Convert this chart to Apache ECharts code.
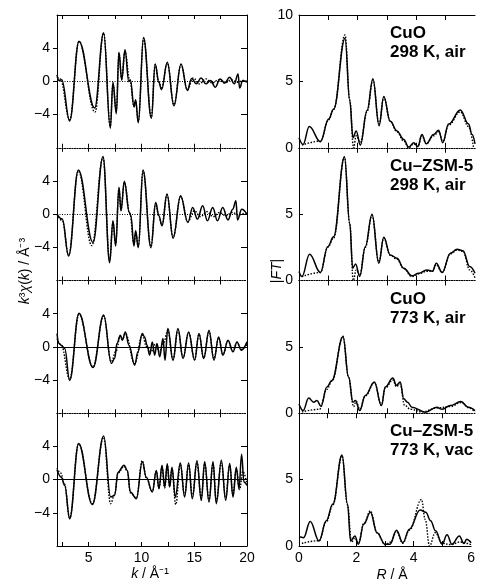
<!DOCTYPE html>
<html>
<head>
    <meta charset="utf-8">
    <title>EXAFS k3chi(k) and |FT|</title>
    <script src="https://cdn.jsdelivr.net/npm/echarts@6.0.0/dist/echarts.min.js"></script>
    <style>
        html, body { margin: 0; padding: 0; background: #fff; }
        #chart { width: 478px; height: 580px; }
    </style>
</head>
<body>
<div id="chart"></div>
<script type="text/javascript">
    // k-space, CuO 298 K air (solid = data, dotted = fit)
    var k1  = [2.0, 2.2, 2.45, 3.2, 4.08, 5.57, 6.42, 7.05, 7.3, 7.62, 7.87, 8.13, 8.44, 8.8, 8.95, 9.3, 9.45, 9.7, 10.2, 10.94, 11.3, 11.65, 11.9, 12.45, 13.08, 13.75, 14.35, 14.75, 15.2, 15.65, 16.1, 16.55, 17.0, 17.45, 17.9, 18.35, 18.8, 19.15, 19.3, 19.6, 20.0];
    var c1  = [0.8, 0.1, 0.2, -4.77, 4.85, -3.2, 5.86, -5.66, -0.1, -3.9, 3.5, 0.15, 3.8, 0.0, 0.2, -3.1, -2.2, -5.0, 5.3, -4.45, 2.1, -0.1, -1.0, 2.3, -2.95, 2.1, -1.1, 0.35, -0.3, 0.4, -0.3, 0.1, -0.7, 0.3, -0.2, 0.5, -0.3, 0.9, -0.8, 0.1, -0.1];
    var kf1 = [2.0, 2.3, 3.2, 4.08, 5.6, 6.42, 7.05, 7.3, 7.62, 7.87, 8.13, 8.44, 8.9, 9.3, 9.45, 9.7, 10.2, 10.94, 11.3, 11.65, 11.9, 12.45, 13.08, 13.75, 14.35, 14.9, 15.5, 16.1, 16.7, 17.3, 17.9, 18.5, 19.1, 19.7, 20.0];
    var cf1 = [0.5, 0.3, -4.6, 4.8, -3.7, 5.8, -5.4, -0.3, -3.6, 3.4, 0.3, 3.6, 0.1, -3.0, -2.4, -4.8, 5.2, -4.3, 2.0, 0.0, -0.9, 2.2, -2.8, 2.0, -1.0, 0.4, -0.3, 0.3, -0.2, 0.2, -0.2, 0.2, -0.1, 0.1, 0.0];

    // k-space, Cu-ZSM-5 298 K air
    var k2  = [2.0, 2.5, 3.1, 4.02, 5.41, 6.36, 6.99, 7.3, 7.56, 7.87, 8.06, 8.38, 8.85, 9.0, 9.29, 9.45, 9.7, 10.15, 10.9, 11.35, 11.65, 11.95, 12.42, 13.0, 13.71, 14.4, 14.85, 15.3, 15.8, 16.25, 16.75, 17.2, 17.7, 18.2, 18.65, 18.95, 19.1, 19.5, 20.0];
    var c2  = [0.0, -0.6, -5.05, 5.33, -3.43, 6.95, -5.86, -0.8, -3.84, 3.23, 0.4, 3.96, 0.2, -0.2, -3.84, -2.0, -4.04, 5.33, -4.04, 1.4, -0.2, -1.4, 2.42, -2.9, 2.22, -1.0, 0.8, -0.6, 1.0, -0.8, 0.8, -0.8, 0.8, -0.7, 0.6, 1.6, -0.7, 0.6, 0.0];
    var kf2 = [2.0, 2.5, 3.1, 4.02, 5.3, 6.36, 6.99, 7.3, 7.56, 7.87, 8.06, 8.38, 8.9, 9.29, 9.45, 9.7, 10.15, 10.9, 11.35, 11.65, 11.95, 12.42, 13.0, 13.71, 14.4, 15.0, 15.6, 16.2, 16.8, 17.4, 18.0, 18.6, 19.2, 19.8, 20.0];
    var cf2 = [0.0, -0.8, -4.9, 5.2, -3.8, 6.8, -5.6, -1.0, -3.6, 3.1, 0.5, 3.8, 0.1, -3.6, -2.2, -3.9, 5.2, -3.9, 1.3, -0.3, -1.3, 2.3, -2.8, 2.1, -0.9, 0.4, -0.3, 0.3, -0.3, 0.2, -0.2, 0.2, -0.1, 0.1, 0.0];

    // k-space, CuO 773 K air
    var k3  = [2.0, 2.19, 2.41, 2.73, 3.2, 4.08, 5.41, 6.42, 7.15, 7.46, 7.68, 8.0, 8.19, 8.47, 8.82, 9.36, 9.67, 10.08, 10.3, 10.53, 10.78, 11.03, 11.25, 11.47, 11.73, 12.04, 12.23, 12.5, 12.99, 13.46, 13.94, 14.47, 15.04, 15.45, 15.9, 16.4, 16.87, 17.31, 17.72, 18.2, 18.67, 19.05, 19.46, 20.0];
    var c3  = [1.6, 0.4, 0.2, -0.2, -4.04, 4.04, -2.5, 3.84, -2.0, -1.4, 0.4, 1.4, 0.8, 1.8, 0.2, -2.2, -0.6, 1.6, 1.2, 0.2, -1.0, 0.6, -1.0, 0.4, -1.2, 1.0, -1.6, 2.2, -1.6, 2.2, -1.4, 1.8, -1.6, 1.6, -1.4, 2.0, -1.6, 1.2, -1.0, 0.8, -0.6, 0.6, -0.4, 0.6];
    var kf3 = [2.0, 2.4, 3.2, 4.08, 5.41, 6.42, 7.15, 7.6, 8.0, 8.2, 8.47, 9.36, 10.08, 10.5, 10.9, 11.3, 11.7, 12.1, 12.5, 12.99, 13.46, 13.94, 14.47, 15.04, 15.45, 15.9, 16.4, 16.87, 17.31, 17.72, 18.2, 18.67, 19.05, 19.46, 20.0];
    var cf3 = [1.0, 0.2, -3.9, 3.9, -2.4, 3.7, -1.8, -0.5, 1.3, 0.9, 1.6, -2.0, 1.4, 0.0, -0.6, 0.3, -0.6, 0.5, 2.0, -1.5, 2.0, -1.3, 1.7, -1.5, 1.5, -1.3, 1.8, -1.4, 1.1, -0.9, 0.7, -0.5, 0.5, -0.3, 0.3];

    // k-space, Cu-ZSM-5 773 K vac
    var k4  = [2.0, 2.41, 2.73, 3.2, 4.05, 5.35, 6.42, 7.08, 7.46, 7.78, 8.35, 8.66, 8.95, 9.52, 10.08, 10.46, 11.03, 11.41, 11.66, 11.95, 12.2, 12.45, 12.67, 12.89, 13.21, 13.68, 14.09, 14.47, 14.82, 15.26, 15.67, 15.99, 16.4, 16.78, 17.09, 17.57, 17.98, 18.36, 18.67, 18.99, 19.24, 19.49, 19.71, 20.0];
    var c4  = [1.2, 0.3, -0.7, -4.73, 4.36, -3.0, 5.25, -2.1, -1.9, 0.9, 1.74, 1.1, -1.5, -2.3, 2.14, 0.3, -1.5, 1.1, -1.1, 1.74, -0.9, 1.9, -0.9, 1.5, -2.1, 2.0, -2.1, 2.0, -2.3, 2.26, -2.5, 2.14, -2.7, 2.14, -2.9, 2.34, -2.5, 1.94, -2.1, 1.5, -1.1, 3.07, -0.3, -0.7];
    var kf4 = [2.0, 2.35, 2.7, 3.2, 4.05, 5.35, 6.42, 7.08, 7.46, 7.78, 8.35, 8.66, 8.95, 9.52, 10.08, 10.46, 11.03, 11.41, 11.66, 11.95, 12.2, 12.45, 12.67, 12.89, 13.25, 13.68, 14.09, 14.47, 14.82, 15.26, 15.67, 15.99, 16.4, 16.78, 17.09, 17.57, 17.98, 18.36, 18.67, 18.99, 19.3, 19.6, 20.0];
    var cf4 = [1.4, 0.8, -0.5, -4.6, 4.3, -2.9, 5.1, -2.9, -1.8, 0.8, 1.6, 1.0, -1.6, -2.2, 2.3, 0.2, -1.4, 1.0, -1.0, 1.5, -1.0, 1.7, -0.8, 1.3, -3.0, 1.8, -1.9, 1.8, -2.0, 2.0, -2.2, 1.9, -2.4, 1.9, -2.6, 2.0, -2.2, 1.7, -1.8, 1.3, -1.2, 1.0, -0.5];

    // R-space |FT|, CuO 298 K air
    var r1  = [0.0, 0.14, 0.35, 0.73, 1.01, 1.18, 1.57, 1.73, 1.84, 1.95, 2.09, 2.32, 2.52, 2.73, 2.89, 3.11, 3.34, 3.57, 3.74, 3.91, 4.05, 4.19, 4.34, 4.59, 4.76, 4.9, 5.1, 5.5, 5.78, 5.9, 6.0];
    var f1  = [0.76, 0.25, 1.6, 0.46, 2.16, 2.9, 8.25, 3.55, 0.76, 1.27, 0.2, 2.8, 5.2, 1.65, 3.86, 2.0, 1.27, 0.63, 0.05, 0.38, 0.08, 1.0, 0.3, 1.0, 1.32, 0.38, 1.78, 2.84, 1.78, 1.0, 0.3];
    var rf1 = [0.1, 0.73, 1.01, 1.18, 1.57, 1.73, 1.86, 1.95, 2.09, 2.32, 2.52, 2.73, 2.89, 3.11, 3.34, 3.57, 3.74, 3.91, 4.05, 4.19, 4.34, 4.59, 4.76, 4.9, 5.1, 5.5, 5.78, 5.95];
    var ff1 = [0.2, 0.5, 2.1, 2.9, 8.5, 3.6, 0.0, 0.9, 0.4, 2.7, 5.1, 1.8, 3.8, 2.0, 1.2, 0.5, 0.0, 0.3, 0.1, 0.9, 0.3, 0.9, 1.2, 0.5, 1.7, 2.7, 1.6, 0.0];

    // R-space |FT|, Cu-ZSM-5 298 K air
    var r2  = [0.0, 0.1, 0.36, 0.73, 0.98, 1.18, 1.55, 1.73, 1.83, 1.93, 2.07, 2.26, 2.49, 2.72, 2.89, 3.11, 3.34, 3.57, 3.85, 4.08, 4.36, 4.55, 4.68, 4.88, 5.16, 5.39, 5.59, 5.82, 6.0];
    var f2  = [0.68, 0.3, 1.98, 0.6, 2.55, 3.3, 9.3, 4.3, 0.93, 1.25, 0.3, 2.55, 5.0, 1.3, 3.25, 1.93, 1.68, 0.93, 0.35, 0.55, 0.8, 0.7, 1.3, 0.6, 2.05, 2.35, 2.25, 1.05, 0.55];
    var rf2 = [0.1, 0.73, 0.98, 1.18, 1.55, 1.73, 1.85, 1.95, 2.07, 2.26, 2.49, 2.72, 2.89, 3.11, 3.34, 3.57, 3.85, 4.08, 4.36, 4.55, 4.68, 4.88, 5.16, 5.39, 5.59, 5.82, 6.0];
    var ff2 = [0.3, 0.6, 2.5, 3.2, 9.3, 4.3, 0.0, 0.8, 0.4, 2.5, 4.9, 1.4, 3.2, 1.9, 1.6, 0.9, 0.3, 0.5, 0.7, 0.7, 1.2, 0.6, 2.0, 2.3, 2.2, 0.8, 0.2];

    // R-space |FT|, CuO 773 K air
    var r3  = [0.0, 0.14, 0.33, 0.5, 0.61, 0.75, 0.95, 1.12, 1.5, 1.69, 1.84, 1.92, 2.07, 2.26, 2.57, 2.81, 2.94, 3.2, 3.32, 3.45, 3.57, 3.7, 3.85, 4.31, 4.7, 4.88, 5.16, 5.52, 5.78, 6.0];
    var f3  = [0.7, 0.2, 1.14, 0.83, 0.96, 0.53, 1.97, 2.47, 5.76, 2.73, 0.83, 0.96, 0.2, 1.34, 2.35, 0.58, 1.97, 2.65, 2.1, 2.35, 1.09, 0.83, 0.45, 0.08, 0.45, 0.3, 0.58, 0.88, 0.45, 0.2];
    var rf3 = [0.1, 0.7, 0.95, 1.12, 1.5, 1.69, 1.86, 1.95, 2.07, 2.26, 2.57, 2.81, 2.94, 3.2, 3.32, 3.45, 3.6, 3.8, 4.2, 4.7, 5.16, 5.52, 5.8, 6.0];
    var ff3 = [0.1, 0.3, 1.8, 2.4, 5.8, 2.7, 0.5, 0.9, 0.3, 1.3, 2.3, 0.6, 1.9, 2.5, 2.0, 2.2, 0.6, 0.3, 0.1, 0.4, 0.5, 0.8, 0.4, 0.1];

    // R-space |FT|, Cu-ZSM-5 773 K vac
    var r4  = [0.0, 0.16, 0.39, 0.7, 0.95, 1.18, 1.5, 1.69, 1.8, 1.95, 2.07, 2.26, 2.49, 2.72, 3.0, 3.17, 3.4, 3.62, 3.85, 4.22, 4.42, 4.59, 4.76, 4.99, 5.16, 5.33, 5.59, 5.75, 5.84, 6.0];
    var f4  = [0.69, 0.63, 1.85, 0.38, 1.9, 3.17, 6.85, 3.17, 0.38, 0.76, 0.13, 1.65, 2.54, 1.0, 0.13, 0.13, 1.19, 0.25, 1.27, 2.72, 2.54, 1.9, 1.14, 0.13, 0.84, 0.13, 0.76, 0.18, 0.5, 0.25];
    var rf4 = [0.1, 0.7, 0.95, 1.18, 1.5, 1.69, 1.83, 1.95, 2.07, 2.26, 2.49, 2.72, 3.0, 3.2, 3.4, 3.62, 3.85, 4.27, 4.4, 4.55, 4.75, 4.99, 5.3, 5.6, 6.0];
    var ff4 = [0.2, 0.4, 1.8, 3.1, 6.8, 3.1, 0.3, 0.6, 0.2, 1.7, 2.65, 1.0, 0.1, 0.3, 1.1, 0.2, 1.2, 3.5, 2.0, 0.0, 1.0, 0.2, 0.1, 0.3, 0.1];

    // tick labels
    var kTicks = [2.5, 5, 7.5, 10, 12.5, 15, 17.5];
    var kLabels = [5, 10, 15, 20];
    var chiTicks = [-4, 0, 4];
    var rTicks = [1, 2, 3, 4, 5];
    var rLabels = [0, 2, 4, 6];
    var ftTicks = [5];
    var sampleNames = ['CuO', 'Cu\u2013ZSM-5', 'CuO', 'Cu\u2013ZSM-5'];
    var sampleConds = ['298 K, air', '298 K, air', '773 K, air', '773 K, vac'];

    var kData = [[k1, c1, kf1, cf1], [k2, c2, kf2, cf2], [k3, c3, kf3, cf3], [k4, c4, kf4, cf4]];
    var rData = [[r1, f1, rf1, ff1], [r2, f2, rf2, ff2], [r3, f3, rf3, ff3], [r4, f4, rf4, ff4]];

    var FONT = '"Liberation Sans", Arial, Helvetica, sans-serif';
    var TOPS = [15, 147.75, 280.5, 413.25];
    var H = 132.75;
    var DOT = [1, 1.5];

    function pairs(xs, ys) {
        return xs.map(function (v, i) { return [v, ys[i]]; });
    }
    function minus(v) {
        return v < 0 ? '\u2212' + (-v) : String(v);
    }
    function lineCfg(type) {
        return {show: true, onZero: false, lineStyle: {color: '#000', width: 1, type: type}};
    }
    var labelStyle = {color: '#000', fontSize: 14, fontFamily: FONT};

    var grids = [], xAxes = [], yAxes = [], series = [], graphics = [];

    function curve(xi, yi, data, dotted, zero) {
        var s = {
            type: 'line', xAxisIndex: xi, yAxisIndex: yi, data: data,
            symbol: 'none', smooth: 0.4, smoothMonotone: 'x', silent: true,
            lineStyle: {color: '#000', width: dotted ? 1.4 : 1.5, type: dotted ? [1.5, 1.5] : 'solid'}
        };
        if (zero) {
            s.markLine = {
                silent: true, symbol: 'none', label: {show: false},
                lineStyle: {color: '#000', width: 1, type: zero},
                data: [{yAxis: 0}]
            };
        }
        return s;
    }

    // left column: k^3 chi(k)
    for (var i = 0; i < 4; i++) {
        grids.push({left: 57, top: TOPS[i], width: 190, height: H});
        var g = grids.length - 1;
        xAxes.push({
            type: 'value', gridIndex: g, position: 'bottom', min: 2, max: 20,
            axisLine: lineCfg(i < 3 ? DOT : 'solid'),
            axisTick: {show: true, inside: true, length: 4, customValues: kTicks, lineStyle: {color: '#000'}},
            axisLabel: Object.assign({show: i === 3, customValues: kLabels, margin: 5}, labelStyle),
            splitLine: {show: false}
        });
        xAxes.push({
            type: 'value', gridIndex: g, position: 'top', min: 2, max: 20,
            axisLine: lineCfg(i === 0 ? 'solid' : DOT),
            axisTick: {show: true, inside: true, length: 4, customValues: kTicks, lineStyle: {color: '#000'}},
            axisLabel: {show: false}, splitLine: {show: false}
        });
        yAxes.push({
            type: 'value', gridIndex: g, position: 'left', min: -8, max: 8,
            axisLine: lineCfg('solid'),
            axisTick: {show: true, inside: false, length: 4, customValues: chiTicks, lineStyle: {color: '#000'}},
            axisLabel: Object.assign({customValues: chiTicks, formatter: minus, margin: 7}, labelStyle),
            splitLine: {show: false}
        });
        yAxes.push({
            type: 'value', gridIndex: g, position: 'right', min: -8, max: 8,
            axisLine: lineCfg('solid'),
            axisTick: {show: true, inside: true, length: 6, customValues: chiTicks, lineStyle: {color: '#000'}},
            axisLabel: {show: false}, splitLine: {show: false}
        });
        var d = kData[i];
        series.push(curve(xAxes.length - 2, yAxes.length - 2, pairs(d[0], d[1]), false, i < 2 ? DOT : 'solid'));
        series.push(curve(xAxes.length - 2, yAxes.length - 2, pairs(d[2], d[3]), true));
    }

    // right column: |FT|
    for (var j = 0; j < 4; j++) {
        grids.push({left: 299, top: TOPS[j], width: 176, height: H});
        var gr = grids.length - 1;
        xAxes.push({
            type: 'value', gridIndex: gr, position: 'bottom', min: 0, max: 6,
            axisLine: lineCfg(j < 3 ? DOT : 'solid'),
            axisTick: {show: true, inside: true, length: 5, customValues: rTicks, lineStyle: {color: '#000'}},
            axisLabel: Object.assign({show: j === 3, customValues: rLabels, margin: 5}, labelStyle),
            splitLine: {show: false}
        });
        xAxes.push({
            type: 'value', gridIndex: gr, position: 'top', min: 0, max: 6,
            axisLine: lineCfg(j === 0 ? 'solid' : DOT),
            axisTick: {show: true, inside: true, length: 5, customValues: rTicks, lineStyle: {color: '#000'}},
            axisLabel: {show: false}, splitLine: {show: false}
        });
        yAxes.push({
            type: 'value', gridIndex: gr, position: 'left', min: 0, max: 10,
            axisLine: lineCfg('solid'),
            axisTick: {show: true, inside: true, length: 4, customValues: ftTicks, lineStyle: {color: '#000'}},
            axisLabel: Object.assign({customValues: j === 0 ? [0, 5, 10] : [0, 5], margin: 6}, labelStyle),
            splitLine: {show: false}
        });
        var e = rData[j];
        series.push(curve(xAxes.length - 2, yAxes.length - 1, pairs(e[0], e[1]), false));
        series.push(curve(xAxes.length - 2, yAxes.length - 1, pairs(e[2], e[3]), true));

        graphics.push({
            type: 'text', x: 390, y: TOPS[j] + 28, silent: true,
            style: {text: sampleNames[j] + '\n' + sampleConds[j], fill: '#000', fontSize: 17, fontWeight: 'bold',
                fontFamily: FONT, lineHeight: 19, align: 'left', verticalAlign: 'middle'}
        });
    }

    var italic = {fontStyle: 'italic', fontSize: 14, fontFamily: FONT, fill: '#000'};
    var plain = {fontSize: 14, fontFamily: FONT, fill: '#000'};
    graphics.push({
        type: 'text', x: 25, y: 271, rotation: Math.PI / 2, silent: true,
        style: {text: '{i|k}{p|\u00b3}{i|\u03c7}{p|(}{i|k}{p|) / \u00c5\u207b\u00b3}', rich: {i: italic, p: plain},
            align: 'center', verticalAlign: 'middle'}
    });
    graphics.push({
        type: 'text', x: 277, y: 271, rotation: Math.PI / 2, silent: true,
        style: {text: '{p||}{i|FT}{p||}', rich: {i: italic, p: plain}, align: 'center', verticalAlign: 'middle'}
    });
    graphics.push({
        type: 'text', x: 150, y: 574, silent: true,
        style: {text: '{i|k}{p| / \u00c5\u207b\u00b9}', rich: {i: italic, p: plain}, align: 'center', verticalAlign: 'middle'}
    });
    graphics.push({
        type: 'text', x: 392, y: 575, silent: true,
        style: {text: '{i|R}{p| / \u00c5}', rich: {i: italic, p: plain}, align: 'center', verticalAlign: 'middle'}
    });

    var chart = echarts.init(document.getElementById('chart'));
    chart.setOption({
        animation: false,
        backgroundColor: '#fff',
        grid: grids,
        xAxis: xAxes,
        yAxis: yAxes,
        series: series,
        graphic: graphics
    });
</script>
</body>
</html>
